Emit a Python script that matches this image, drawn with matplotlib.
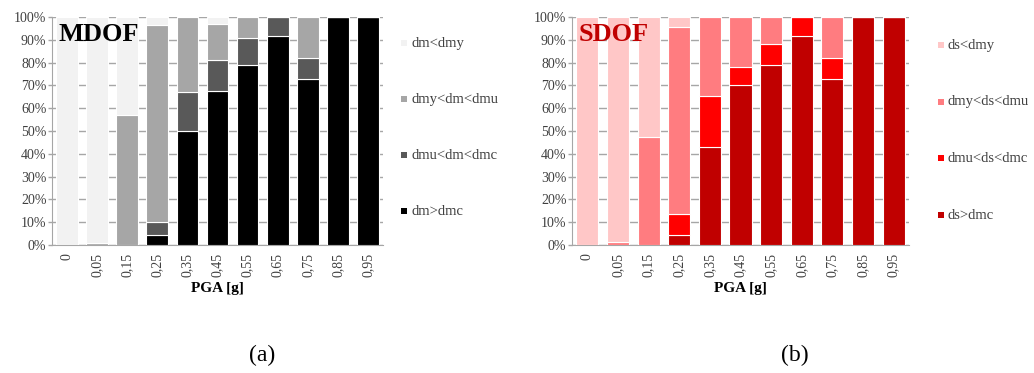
import numpy as np
import matplotlib.pyplot as plt
from matplotlib.patches import Rectangle

plt.rcParams['font.family'] = ['Liberation Serif', 'DejaVu Serif']

pga = ["0", "0,05", "0,15", "0,25", "0,35", "0,45", "0,55", "0,65", "0,75", "0,85", "0,95"]

# MDOF shares (%), bottom to top
m_collapse = [0, 0, 0, 4.5, 50, 67.5, 79, 91.5, 73, 100, 100]
m_ult = [0, 0, 0, 5.5, 17, 13.5, 12, 8.5, 9, 0, 0]
m_yield = [0, 1, 57, 86.5, 33, 16, 9, 0, 18, 0, 0]
m_elastic = [100, 99, 43, 3.5, 0, 3, 0, 0, 0, 0, 0]

# SDOF shares (%), bottom to top
s_collapse = [0, 0, 0, 4.5, 43, 70, 79, 91.5, 73, 100, 100]
s_ult = [0, 0, 0, 9, 22.5, 8, 9, 8.5, 9, 0, 0]
s_yield = [0, 1.5, 47.5, 82, 34.5, 22, 12, 0, 18, 0, 0]
s_elastic = [100, 98.5, 52.5, 4.5, 0, 0, 0, 0, 0, 0, 0]

m_labels = ["dm>dmc", "dmu<dm<dmc", "dmy<dm<dmu", "dm<dmy"]
s_labels = ["ds>dmc", "dmu<ds<dmc", "dmy<ds<dmu", "ds<dmy"]
m_colors = ["#000000", "#595959", "#A6A6A6", "#F2F2F2"]
s_colors = ["#C00000", "#FF0000", "#FF7C80", "#FFC7C7"]

fig = plt.figure(figsize=(10.34, 3.73), dpi=100)
W, H = 1034, 373


def panel(x0, x1, series, colors, labels, title, tcolor, leg_x, leg_ys, sub, sub_x):
    ax = fig.add_axes([x0 / W, 1 - 245 / H, (x1 - x0) / W, 228 / H])
    x = np.arange(len(pga))
    bottom = np.zeros(len(pga))
    for vals, c in zip(series, colors):
        ax.bar(x, vals, bottom=bottom, width=0.72, color=c, edgecolor="white",
               linewidth=0.8, zorder=3)
        bottom += np.array(vals)
    ax.set_xlim(-0.5, len(pga) - 0.5)
    ax.set_ylim(0, 100)
    ax.set_yticks(range(0, 101, 10))
    ax.set_yticklabels([f"{v}%" for v in range(0, 101, 10)], fontsize=10, color="#404040")
    ax.set_xticks(x)
    ax.set_xticklabels(pga, rotation=90, fontsize=10, color="#404040")
    ax.tick_params(axis="x", length=0, pad=6)
    ax.tick_params(axis="y", length=3, width=1, color="#A6A6A6", pad=1)
    ax.grid(axis="y", color="#A6A6A6", linewidth=1, zorder=0)
    for s in ["top", "right"]:
        ax.spines[s].set_visible(False)
    ax.spines["left"].set_color("#A6A6A6")
    ax.spines["bottom"].set_color("#A6A6A6")
    ax.set_xlabel("PGA [g]", fontsize=11, fontweight="bold", labelpad=3)
    ax.text(0.02, 0.975, title, transform=ax.transAxes, fontsize=19, fontweight="bold",
            color=tcolor, va="top", ha="left", zorder=5)
    # legend, top entry is the last series
    for lab, c, ly in zip(labels, colors, leg_ys):
        fig.patches.append(Rectangle(((leg_x - 3) / W, (H - ly - 3) / H), 6 / W, 6 / H,
                                     transform=fig.transFigure, facecolor=c,
                                     edgecolor="none"))
        fig.text((leg_x + 7) / W, 1 - ly / H, lab, fontsize=10.5, color="#404040",
                 va="center", ha="left")
    fig.text(sub_x / W, 1 - 355 / H, sub, fontsize=17, ha="center", va="center")
    return ax


panel(52, 383, [m_collapse, m_ult, m_yield, m_elastic], m_colors, m_labels,
      "MDOF", "black", 404, [211, 155, 99, 43], "(a)", 262)
panel(572, 909, [s_collapse, s_ult, s_yield, s_elastic], s_colors, s_labels,
      "SDOF", "#C00000", 941, [215, 158, 102, 45], "(b)", 795)
plt.savefig("out.png", dpi=100)
